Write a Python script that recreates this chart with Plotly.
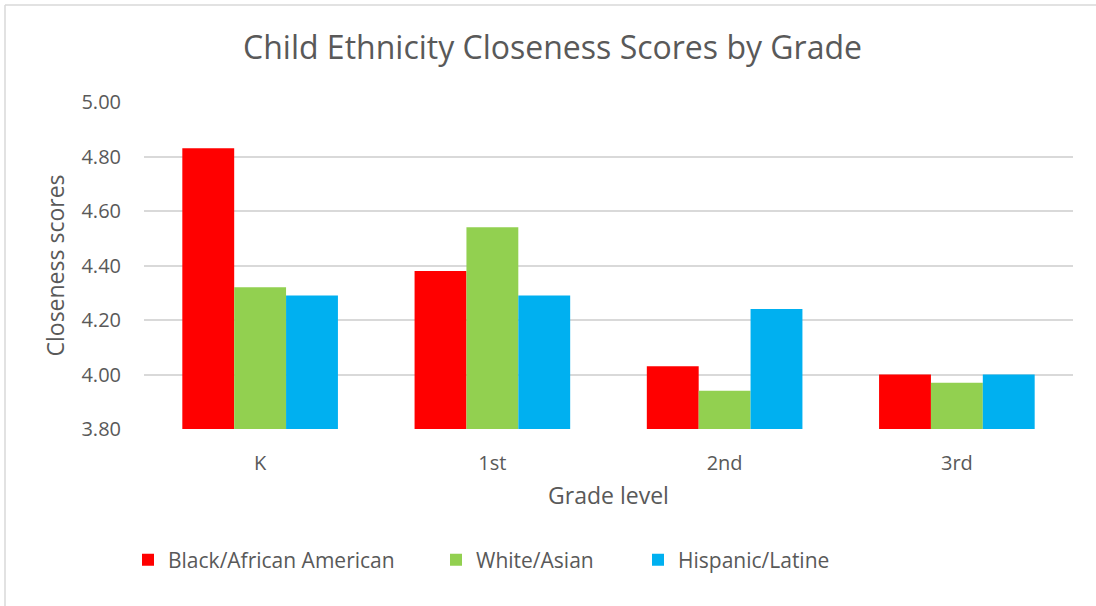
import plotly.graph_objects as go

grades = ["K", "1st", "2nd", "3rd"]
black_african_american = [4.83, 4.38, 4.03, 4.00]
white_asian = [4.32, 4.54, 3.94, 3.97]
hispanic_latine = [4.29, 4.29, 4.24, 4.00]
series_names = ["Black/African American", "White/Asian", "Hispanic/Latine"]
colors = ["#FF0000", "#92D050", "#00B0F0"]
y_ticks = [3.8, 4.0, 4.2, 4.4, 4.6, 4.8, 5.0]

W, H = 1096, 606
ml, mr, mt, mb = 144, 23, 102, 177
pw, ph = W - ml - mr, H - mt - mb

def px_x(p):
    return (p - ml) / pw

def px_y(p):
    return (H - mb - p) / ph

legend_ids = ["legend", "legend2", "legend3"]
legend_left_px = [128, 436, 638]

fig = go.Figure()
for name, vals, c, lid in zip(series_names, [black_african_american, white_asian, hispanic_latine], colors, legend_ids):
    fig.add_trace(go.Bar(x=grades, y=vals, name=name, legend=lid, showlegend=True,
                         marker=dict(color=c, line=dict(width=0))))

legend_common = dict(orientation="h", yanchor="middle", y=px_y(560), xanchor="left",
                     font=dict(size=21, color="#595959"), itemwidth=30,
                     bgcolor="rgba(0,0,0,0)", visible=True)
legends = {}
for lid, lx in zip(legend_ids, legend_left_px):
    legends[lid] = dict(legend_common, x=px_x(lx))

fig.update_layout(
    width=W, height=H,
    margin=dict(l=ml, r=mr, t=mt, b=mb),
    paper_bgcolor="white", plot_bgcolor="white",
    showlegend=True,
    font=dict(family="Open Sans, Liberation Sans, sans-serif", color="#595959"),
    title=dict(text="Child Ethnicity Closeness Scores by Grade", x=(552.5 - ml) / pw, xref="paper",
               xanchor="center", y=1 - 48 / H, yanchor="middle",
               font=dict(size=32, color="#595959")),
    barmode="group", bargap=0.33, bargroupgap=0,
    xaxis=dict(title=dict(text="Grade level", font=dict(size=23), standoff=12),
               tickfont=dict(size=20), showgrid=False, showline=False, ticks="",
               ticklabelstandoff=20),
    yaxis=dict(title=dict(text="Closeness scores", font=dict(size=23), standoff=10),
               range=[3.8, 5.0], tickvals=y_ticks, tickformat=".2f",
               tickfont=dict(size=20), showgrid=True, gridcolor="#D9D9D9", gridwidth=1.5,
               zeroline=False, showline=False, ticks="", ticklabelstandoff=22),
    shapes=[
        dict(type="line", xref="paper", yref="paper", x0=px_x(5), x1=px_x(5),
             y0=px_y(5), y1=px_y(H + 10), line=dict(color="#D9D9D9", width=1.5)),
        dict(type="line", xref="paper", yref="paper", x0=px_x(5), x1=px_x(W + 10),
             y0=px_y(5), y1=px_y(5), line=dict(color="#D9D9D9", width=1.5)),
    ],
    **legends,
)

fig.write_html("out.html")
